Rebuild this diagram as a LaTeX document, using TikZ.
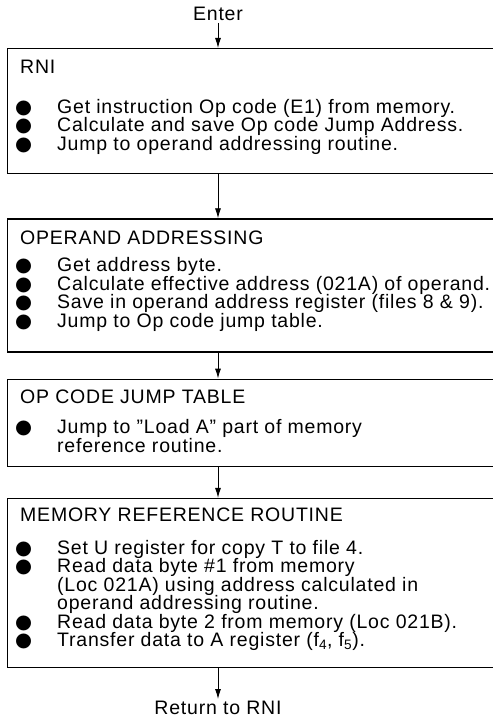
\documentclass[tikz,border=0pt]{standalone}
\usepackage{fontspec}
\setmainfont{Liberation Sans}[LetterSpace=4]
\newfontfamily\dotfont{DejaVu Sans}
\usetikzlibrary{arrows.meta, positioning}

\newcommand{\bitem}{\makebox[42pt][l]{{\dotfont ●}}}
\newcommand{\cont}{\hspace*{42pt}}

\tikzset{
  panel/.style={draw, line width=1.3pt, minimum width=500pt, inner sep=0pt, anchor=north west},
  panel text/.style={inner sep=0pt, anchor=north west, align=left, font=\fontsize{19.5}{18.5}\selectfont},
  endtext/.style={inner sep=2pt, font=\fontsize{19.5}{18.5}\selectfont},
  flow/.style={-{Latex[length=10pt,width=6pt]}, line width=0.9pt}
}

\begin{document}
\begin{tikzpicture}[x=1pt, y=-1pt]
  \useasboundingbox (0,0) rectangle (492,719);

  \node[endtext] (enter) at (218,14) {Enter};

  \node[panel, minimum height=125pt] (rni) at (7,48) {};
  \node[panel text, below right=12pt and 8pt of rni.north west] (rnitxt) {
    \hspace*{5pt}RNI\\[21pt]
    \bitem Get instruction Op code (E1) from memory.\\
    \bitem Calculate and save Op code Jump Address.\\
    \bitem Jump to operand addressing routine.};

  \node[panel, minimum height=133pt, below=44pt of rni] (opaddr) {};
  \node[panel text, below right=12pt and 8pt of opaddr.north west] (opaddrtxt) {
    \hspace*{5pt}OPERAND ADDRESSING\\[9pt]
    \bitem Get address byte.\\
    \bitem Calculate effective address (021A) of operand.\\
    \bitem Save in operand address register (files 8 \& 9).\\
    \bitem Jump to Op code jump table.};

  \node[panel, minimum height=87pt, below=26pt of opaddr] (jumptab) {};
  \node[panel text, below right=11pt and 8pt of jumptab.north west] (jumptabtxt) {
    \hspace*{5pt}OP CODE JUMP TABLE\\[12pt]
    \bitem Jump to ''Load A'' part of memory\\
    \cont reference routine.};

  \node[panel, minimum height=169pt, below=31pt of jumptab] (memref) {};
  \node[panel text, below right=10pt and 8pt of memref.north west] (memreftxt) {
    \hspace*{5pt}MEMORY REFERENCE ROUTINE\\[14pt]
    \bitem Set U register for copy T to file 4.\\
    \bitem Read data byte \#1 from memory\\
    \cont (Loc 021A) using address calculated in\\
    \cont operand addressing routine.\\
    \bitem Read data byte 2 from memory (Loc 021B).\\
    \bitem Transfer data to A register (f\textsubscript{4}, f\textsubscript{5}).};

  \node[endtext] (ret) at (218,708) {Return to RNI};

  \draw[flow] (enter) -- (enter |- rni.north);
  \draw[flow] (rni.south -| enter) -- (opaddr.north -| enter);
  \draw[flow] (opaddr.south -| enter) -- (jumptab.north -| enter);
  \draw[flow] (jumptab.south -| enter) -- (memref.north -| enter);
  \draw[flow] (memref.south -| ret) -- (ret);
\end{tikzpicture}
\end{document}
